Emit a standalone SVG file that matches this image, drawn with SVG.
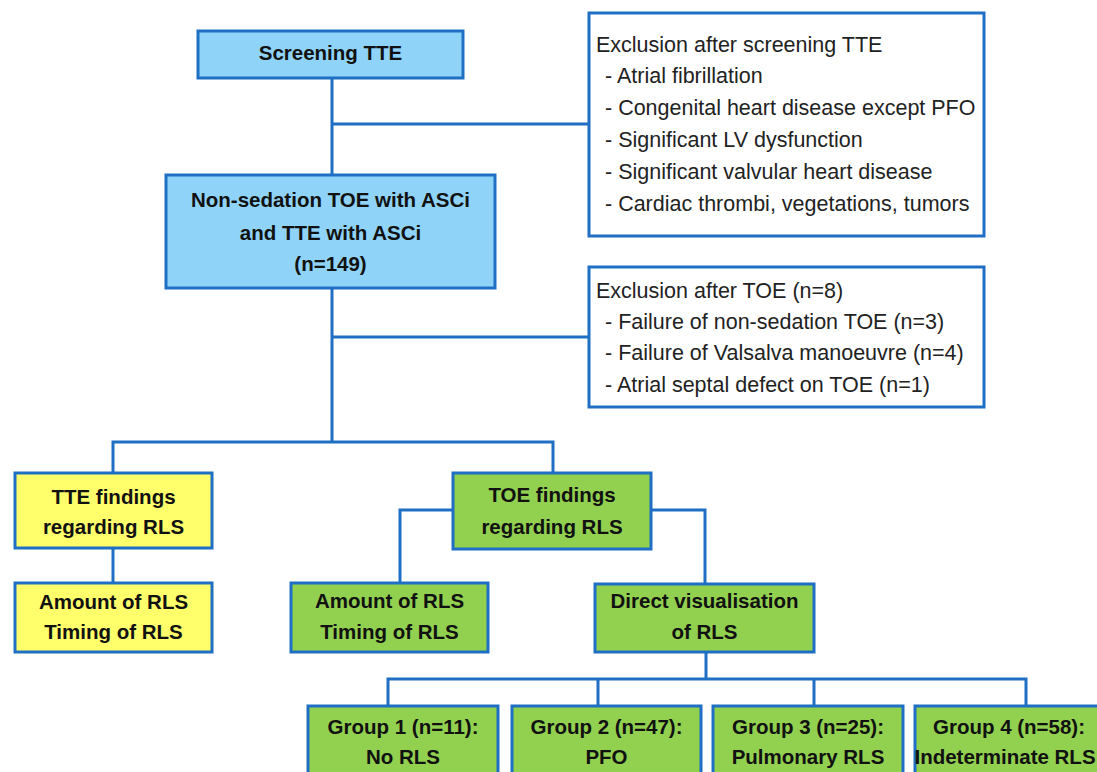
<svg xmlns="http://www.w3.org/2000/svg" width="1097" height="772" viewBox="0 0 1097 772">
<style>
.box{stroke:#1f6fc4;stroke-width:3}
.blue{fill:#8fd4f8}
.yellow{fill:#ffff6b}
.green{fill:#92d050}
.white{fill:#ffffff}
.b{font-family:"Liberation Sans",Arial,sans-serif;font-weight:bold;font-size:20.5px;fill:#111;text-anchor:middle}
.r{font-family:"Liberation Sans",Arial,sans-serif;font-size:21.5px;fill:#222}
.conn{fill:none;stroke:#1f6fc4;stroke-width:3}
</style>
<rect width="1097" height="772" fill="#ffffff"/>
<g id="connectors" class="conn">
<path d="M332,78V175"/>
<path d="M332,124H589"/>
<path d="M332,288V442"/>
<path d="M332,337H589"/>
<path d="M113,473V442H553V473"/>
<path d="M113,548V583"/>
<path d="M453,510H400V583"/>
<path d="M651,510H705V584"/>
<path d="M706,652V679"/>
<path d="M388,706V679H1026V706"/>
<path d="M598,679V706"/>
<path d="M814,679V706"/>
</g>
<g id="screening">
<rect class="box blue" x="198" y="31" width="265" height="47"/>
<text class="b" x="330.5" y="60">Screening TTE</text>
</g>
<g id="nonsedation">
<rect class="box blue" x="166" y="175" width="329" height="113"/>
<text class="b" x="330.5" y="207">Non-sedation TOE with ASCi</text>
<text class="b" x="330.5" y="240">and TTE with ASCi</text>
<text class="b" x="330.5" y="271">(n=149)</text>
</g>
<g id="exclusion1">
<rect class="box white" x="589" y="13" width="395" height="223"/>
<text class="r" x="596" y="52">Exclusion after screening TTE</text>
<text class="r" x="605" y="83">- Atrial fibrillation</text>
<text class="r" x="605" y="115">- Congenital heart disease except PFO</text>
<text class="r" x="605" y="147">- Significant LV dysfunction</text>
<text class="r" x="605" y="179">- Significant valvular heart disease</text>
<text class="r" x="605" y="211">- Cardiac thrombi, vegetations, tumors</text>
</g>
<g id="exclusion2">
<rect class="box white" x="589" y="267" width="395" height="140"/>
<text class="r" x="596" y="298">Exclusion after TOE (n=8)</text>
<text class="r" x="605" y="329">- Failure of non-sedation TOE (n=3)</text>
<text class="r" x="605" y="360">- Failure of Valsalva manoeuvre (n=4)</text>
<text class="r" x="605" y="392">- Atrial septal defect on TOE (n=1)</text>
</g>
<g id="tte-findings">
<rect class="box yellow" x="15" y="473" width="197" height="75"/>
<text class="b" x="113.5" y="504">TTE findings</text>
<text class="b" x="113.5" y="534">regarding RLS</text>
</g>
<g id="tte-amount">
<rect class="box yellow" x="15" y="583" width="197" height="69"/>
<text class="b" x="113.5" y="609">Amount of RLS</text>
<text class="b" x="113.5" y="639">Timing of RLS</text>
</g>
<g id="toe-findings">
<rect class="box green" x="453" y="473" width="198" height="76"/>
<text class="b" x="552" y="502">TOE findings</text>
<text class="b" x="552" y="534">regarding RLS</text>
</g>
<g id="toe-amount">
<rect class="box green" x="291" y="583" width="197" height="69"/>
<text class="b" x="389.5" y="608">Amount of RLS</text>
<text class="b" x="389.5" y="639">Timing of RLS</text>
</g>
<g id="direct-vis">
<rect class="box green" x="595" y="584" width="219" height="68"/>
<text class="b" x="704.5" y="608">Direct visualisation</text>
<text class="b" x="704.5" y="639">of RLS</text>
</g>
<g id="group1">
<rect class="box green" x="308" y="706" width="190" height="80"/>
<text class="b" x="403" y="734">Group 1 (n=11):</text>
<text class="b" x="403" y="764">No RLS</text>
</g>
<g id="group2">
<rect class="box green" x="512" y="706" width="189" height="80"/>
<text class="b" x="606.5" y="734">Group 2 (n=47):</text>
<text class="b" x="606.5" y="764">PFO</text>
</g>
<g id="group3">
<rect class="box green" x="713" y="706" width="190" height="80"/>
<text class="b" x="808" y="734">Group 3 (n=25):</text>
<text class="b" x="808" y="764">Pulmonary RLS</text>
</g>
<g id="group4">
<rect class="box green" x="915" y="706" width="190" height="80"/>
<text class="b" x="1009" y="734">Group 4 (n=58):</text>
<text class="b" x="1005" y="764">Indeterminate RLS</text>
</g>
</svg>
